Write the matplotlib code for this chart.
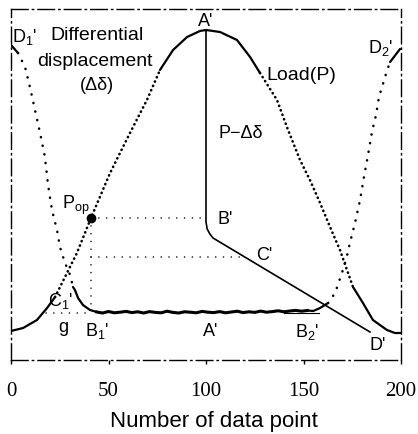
import numpy as np
import matplotlib.pyplot as plt

plt.rcParams['font.family'] = ['Liberation Sans', 'DejaVu Sans']
plt.rcParams['mathtext.fontset'] = 'custom'
plt.rcParams['mathtext.rm'] = 'Liberation Sans'
plt.rcParams['mathtext.it'] = 'Liberation Sans'

#Load curve (x = data point, y = arbitrary units)
load_x = [0.0, 6.2, 13.3, 18.5, 22.6, 28.7, 33.8, 41.0, 50.8, 61.0, 69.7, 76.4,
          83.1, 90.3, 96.9, 100.0, 107.2, 115.9, 122.6, 127.7, 136.4, 141.5,
          148.2, 153.3, 158.5, 163.6, 168.7, 172.3, 175.4, 180.5, 185.6, 192.8,
          196.9, 200.0]
load_y = [29, 32, 40, 52, 63, 87, 107, 142, 187, 227, 260, 290,
          310, 323, 329, 330, 328, 320, 303, 287, 260, 233,
          200, 180, 157, 133, 110, 90, 73, 57, 40, 30,
          27, 27]

#Differential displacement, left branch (D1' down to B1')
dd_left_x = [0.0, 3.6, 4.6, 7.2, 9.7, 12.3, 14.9, 17.4, 19.0, 21.0, 23.6, 25.1,
             27.7, 30.3, 31.8, 32.8, 34.4, 36.9, 40.5, 44.0]
dd_left_y = [315, 307, 303, 293, 273, 250, 227, 203, 175, 150, 130, 113,
             97, 85, 73, 70, 62, 55, 50, 48]

#Differential displacement, noisy flat part (B1' to B2')
flat_x = np.arange(44, 153, 3)
flat_y = [48.0, 47.0, 48.5, 47.2, 47.8, 48.6, 47.4, 48.2, 47.0, 48.4, 47.6, 47.2,
          48.8, 47.6, 47.0, 48.2, 47.8, 47.2, 48.6, 47.8, 47.4, 48.4, 47.2, 48.0,
          48.8, 47.4, 48.2, 47.6, 48.9, 47.8, 48.4, 49.2, 48.2, 49.0, 49.6, 48.8,
          49.5]

#Differential displacement, right branch (B2' up to D2')
dd_right_x = [152.0, 155.0, 158.5, 162.6, 166.2, 169.7, 171.8, 173.8, 176.4, 179.0,
              181.0, 183.1, 185.1, 187.2, 188.7, 190.3, 191.8, 193.3, 194.4, 199.5]
dd_right_y = [49.5, 49, 52, 57, 67, 87, 100, 117, 137, 160,
              183, 205, 228, 245, 263, 273, 283, 292, 298, 311]

#P-delta curve (A' -> B' -> C' -> D')
pd_x = [100.0, 100.0, 100.6, 102.0, 103.6, 184.1]
pd_y = [330, 138, 131, 126, 122, 28]

#marked levels
pop_x, pop_y = 41.0, 142
c_level = 103
g_level = 47
xticks = [0, 50, 100, 150, 200]

fig = plt.figure(figsize=(4.18, 4.34), dpi=100)
ax = fig.add_axes([11/418, 1-360/434, 390/418, 351/434])

solid = dict(color='k', lw=1.6, solid_capstyle='round')
dots = dict(color='k', lw=1.9, linestyle=(0, (0.1, 1.7)), dash_capstyle='round')
sparse = dict(color='k', lw=1.8, linestyle=(0, (0.1, 3.4)), dash_capstyle='round')
guide = dict(color='k', lw=1.1, linestyle=(0, (0.1, 5.0)), dash_capstyle='round')

#Load curve: solid ends and top, dotted flanks
for a, b in [(0, 5), (11, 20), (28, 34)]:
    ax.plot(load_x[a:b], load_y[a:b], **solid)
for a, b in [(4, 12), (19, 29)]:
    ax.plot(load_x[a:b], load_y[a:b], **dots)

#Differential displacement
ax.plot(dd_left_x[:2], dd_left_y[:2], **solid)
ax.plot(dd_left_x[1:15], dd_left_y[1:15], **sparse)
ax.plot(dd_left_x[14:], dd_left_y[14:], **solid)
ax.plot(flat_x, flat_y, color='k', lw=2.2)
ax.plot([140, 158], [47.5, 47.5], color='k', lw=0.8)
ax.plot(dd_right_x[:4], dd_right_y[:4], **solid)
ax.plot(dd_right_x[3:19], dd_right_y[3:19], **sparse)
ax.plot(dd_right_x[18:], dd_right_y[18:], **solid)

#P - delta curve
ax.plot(pd_x, pd_y, color='k', lw=1.2)

#guide lines
c_x = np.interp(c_level, pd_y[:3:-1], pd_x[:3:-1])
ax.plot([pop_x, pd_x[1]], [pop_y, pop_y], **guide)
ax.plot([pop_x, pop_x], [pop_y, 50], **guide)
ax.plot([pop_x, c_x], [c_level, c_level], **guide)
ax.plot([18, 40], [g_level, g_level], **guide)
ax.plot(pop_x, pop_y, 'o', color='k', ms=6)

#labels
fs = 13
ax.text(0.5, 323, "D$_1$'", fontsize=fs, ha='left', va='center')
ax.text(44, 324, 'Differential', fontsize=14, ha='center', va='center')
ax.text(43, 299, 'displacement', fontsize=14, ha='center', va='center')
ax.text(44, 275, '(Δδ)', fontsize=13, ha='center', va='center')
ax.text(100, 339, "A'", fontsize=fs, ha='center', va='center')
ax.text(149, 284, 'Load(P)', fontsize=14, ha='center', va='center')
ax.text(189.5, 312, "D$_2$'", fontsize=fs, ha='center', va='center')
ax.text(118, 226, 'P−Δδ', fontsize=fs, ha='center', va='center')
ax.text(33, 155, 'P$_{op}$', fontsize=fs, ha='center', va='center')
ax.text(110, 140, "B'", fontsize=fs, ha='center', va='center')
ax.text(130, 105, "C'", fontsize=fs, ha='center', va='center')
ax.text(25.5, 59, "C$_1$'", fontsize=fs, ha='center', va='center')
ax.text(26.7, 32, 'g', fontsize=fs, ha='center', va='center')
ax.text(44, 29, "B$_1$'", fontsize=fs, ha='center', va='center')
ax.text(102.5, 28, "A'", fontsize=fs, ha='center', va='center')
ax.text(152, 28, "B$_2$'", fontsize=fs, ha='center', va='center')
ax.text(188, 14, "D'", fontsize=fs, ha='center', va='center')

ax.set_xlim(0, 200)
ax.set_ylim(0, 351)
ax.set_yticks([])
ax.set_xticks(xticks)
ax.set_xticklabels([str(t) for t in xticks], family='Liberation Serif', fontsize=15)
ax.tick_params(axis='x', direction='out', length=3, width=1, pad=13)
for side in ['left', 'right', 'top', 'bottom']:
    ax.spines[side].set_linestyle((0, (12, 3, 1, 3)))
    ax.spines[side].set_linewidth(1.0)

fig.text(214/418, 1-421/434, 'Number of data point', fontsize=16,
         ha='center', va='center')

fig.savefig('out.png', dpi=100)
